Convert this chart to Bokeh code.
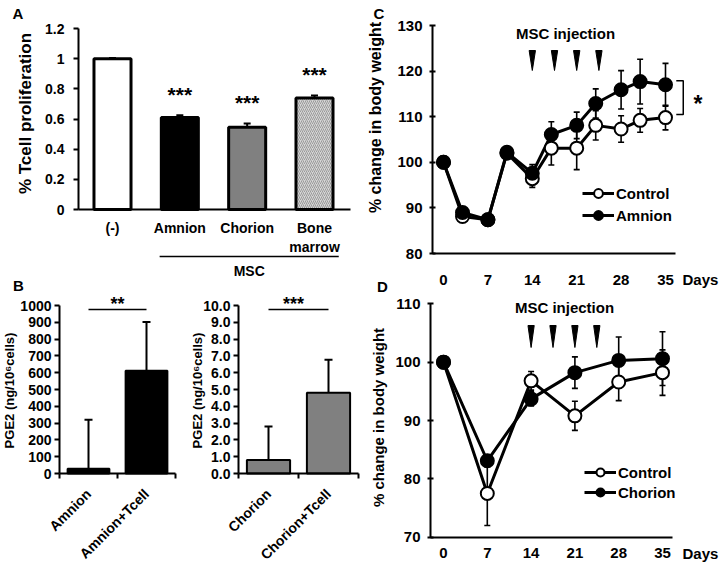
import math
from bokeh.plotting import figure
from bokeh.layouts import column, row
from bokeh.models import (Range1d, FixedTicker, Label, Arrow, Legend, LegendItem,
                          PrintfTickFormatter, CustomJSTickFormatter, ColumnDataSource)
from bokeh.core.properties import value
from bokeh.embed import file_html
from bokeh.resources import INLINE

FONT = "Liberation Sans"

# ---------------- data ----------------
# Panel A
a_categories = ["(-)", "Amnion", "Chorion", "Bone\nmarrow"]
a_values = [1.0, 0.61, 0.545, 0.74]
a_errors = [0.005, 0.015, 0.025, 0.015]
a_signif = ["", "***", "***", "***"]
a_group_label = "MSC"
a_yticks = [0, 0.2, 0.4, 0.6, 0.8, 1.0, 1.2]

# Panel B
b1_categories = ["Amnion", "Amnion+Tcell"]
b1_values = [28, 612]
b1_errors = [292, 290]
b1_signif = "**"
b1_yticks = [0, 100, 200, 300, 400, 500, 600, 700, 800, 900, 1000]

b2_categories = ["Chorion", "Chorion+Tcell"]
b2_values = [0.8, 4.8]
b2_errors = [2.0, 1.97]
b2_signif = "***"
b2_yticks = [0, 1, 2, 3, 4, 5, 6, 7, 8, 9, 10]

# Panel C
c_days = [0, 3, 7, 10, 14, 17, 21, 24, 28, 31, 35]
c_control = [100, 88.1, 87.4, 102.0, 96.4, 103.1, 103.1, 108.1, 107.3, 109.2, 109.8]
c_control_err = [0, 0.5, 0.5, 0.5, 1.9, 3.7, 4.7, 3.2, 2.9, 2.6, 2.7]
c_amnion = [100, 89.0, 87.4, 102.2, 97.6, 106.1, 108.1, 112.9, 115.9, 117.7, 117.0]
c_amnion_err = [0, 0.5, 0.5, 0.5, 1.9, 2.8, 2.9, 3.2, 4.2, 4.9, 4.7]
c_injections = [14, 17.5, 21, 24.5]
c_xticks = [0, 7, 14, 21, 28, 35]
c_yticks = [80, 90, 100, 110, 120, 130]
c_signif = "*"

# Panel D
d_days = [0, 7, 14, 21, 28, 35]
d_control = [100, 77.5, 96.8, 90.8, 96.6, 98.2]
d_control_err = [0, 5.5, 1.6, 2.5, 3.2, 3.9]
d_chorion = [100, 83.1, 93.7, 98.2, 100.3, 100.6]
d_chorion_err = [0, 1.0, 1.2, 2.7, 4.0, 4.6]
d_injections = [14, 17.5, 21, 24.5]
d_xticks = [0, 7, 14, 21, 28, 35]
d_yticks = [70, 80, 90, 100, 110]

# styles
a_colors = ["white", "black", "#808080", "#d6d6d6"]
a_hatch = [" ", " ", " ", "/"]

SPLIT = 294  # page y where the lower row of figures starts


class Panel:
    """A figure whose frame fills the whole canvas; page pixel <-> data mapping."""

    def __init__(self, box, xcal, ycal):
        l, t, r, b = box
        (px1, vx1), (px2, vx2) = xcal
        self.sx = (vx2 - vx1) / (px2 - px1)
        self.ox = vx1 - self.sx * px1
        (py1, vy1), (py2, vy2) = ycal
        self.sy = (vy2 - vy1) / (py2 - py1)
        self.oy = vy1 - self.sy * py1
        self.box = box
        p = figure(width=r - l, height=b - t,
                   x_range=Range1d(self.dx(l), self.dx(r)),
                   y_range=Range1d(self.dy(b), self.dy(t)),
                   min_border=0, min_border_left=0, min_border_right=0,
                   min_border_top=0, min_border_bottom=0,
                   output_backend="svg", toolbar_location=None)
        p.xgrid.visible = False
        p.ygrid.visible = False
        p.outline_line_color = None
        p.background_fill_color = "white"
        p.border_fill_color = "white"
        for ax in (p.xaxis[0], p.yaxis[0]):
            ax.axis_line_width = 2
            ax.axis_line_color = "black"
            ax.major_tick_line_width = 2
            ax.major_tick_line_color = "black"
            ax.minor_tick_line_color = None
            ax.major_label_text_font = FONT
            ax.major_label_text_font_style = "bold"
            ax.major_label_text_color = "black"
        self.p = p

    def dx(self, px):
        return self.ox + self.sx * px

    def dy(self, py):
        return self.oy + self.sy * py

    def place_axes(self, yaxis_px, xaxis_py, xbounds_px, ybounds):
        ya = self.p.yaxis[0]
        xa = self.p.xaxis[0]
        ya.fixed_location = self.dx(yaxis_px)
        ya.bounds = ybounds
        xa.fixed_location = self.dy(xaxis_py)
        xa.bounds = (self.dx(xbounds_px[0]), self.dx(xbounds_px[1]))
        return xa, ya

    def label(self, px, py, text, size, align="left", angle=0.0):
        # py is the vertical centre of the text
        self.p.add_layout(Label(x=self.dx(px), y=self.dy(py), text=text, text_font=FONT,
                                text_font_style="bold", text_font_size=f"{size}px",
                                text_align=align, text_baseline="middle", angle=angle,
                                text_color="black"))


# ---------------- Panel A ----------------
pa = Panel((0, 0, 360, SPLIT), ((112, 0), (314, 3)), ((209, 0), (28, 1.2)))
p = pa.p
a_idx = list(range(len(a_categories)))
a_src = ColumnDataSource(dict(
    x=a_idx, top=a_values,
    err_top=[v + e for v, e in zip(a_values, a_errors)],
    star_y=[v + e + 0.14 for v, e in zip(a_values, a_errors)],
    star=a_signif, fill=a_colors, hatch=a_hatch))
p.vbar(x="x", top="top", bottom=0, width=0.55, fill_color="fill", line_color="black",
       line_width=3, hatch_pattern="hatch", hatch_color="#808080", hatch_scale=4,
       hatch_weight=0.7, source=a_src)
p.segment(x0="x", y0="top", x1="x", y1="err_top", line_color="black", line_width=2, source=a_src)
p.scatter(x="x", y="err_top", marker="dash", size=7, line_color="black", line_width=2, source=a_src)
p.text(x="x", y="star_y", text="star", text_font=value(FONT), text_font_size="21px",
       text_font_style="bold", text_align="center", text_baseline="middle",
       text_color="black", source=a_src)
xa, ya = pa.place_axes(78, 209, (78, 350), (a_yticks[0], a_yticks[-1]))
ya.ticker = FixedTicker(ticks=a_yticks)
ya.formatter = CustomJSTickFormatter(code="return String(Math.round(tick * 10) / 10);")
ya.major_tick_out = 5
ya.major_tick_in = 0
ya.major_label_standoff = 9
ya.major_label_text_font_size = "14px"
xa.ticker = FixedTicker(ticks=a_idx)
xa.major_label_overrides = {i: c for i, c in enumerate(a_categories)}
xa.major_tick_out = 0
xa.major_tick_in = 0
xa.major_label_standoff = 10
xa.major_label_text_font_size = "14px"

pa.label(12, 13, "A", 15)
pa.label(12.5, 284.5, "B", 15)
pa.label(25, 113, "% Tcell proliferation", 17, align="center", angle=math.pi / 2)
msc_x0, msc_x1 = 1 - 0.3, 3 + 0.36
msc_y = pa.dy(256)
p.add_layout(Arrow(start=None, end=None, x_start=msc_x0, y_start=msc_y, x_end=msc_x1, y_end=msc_y,
                   line_color="black", line_width=1.3))
p.add_layout(Label(x=(msc_x0 + msc_x1) / 2, y=pa.dy(270), text=a_group_label, text_font=FONT,
                   text_font_style="bold", text_font_size="14px", text_align="center",
                   text_baseline="middle", text_color="black"))


# ---------------- Panel B ----------------
def bar_panel(panel, cats, vals, errs, yticks, fill, signif, star_cx, axis_px, right_px, fmt=None):
    p = panel.p
    idx = list(range(len(cats)))
    tops = [v + e for v, e in zip(vals, errs)]
    p.vbar(x=idx, top=vals, bottom=0, width=0.72, fill_color=fill, line_color="black", line_width=2)
    p.segment(x0=idx, y0=vals, x1=idx, y1=tops, line_color="black", line_width=2)
    p.scatter(x=idx, y=tops, marker="dash", size=8, line_color="black", line_width=2)
    sig_y = panel.dy(309)
    p.segment(x0=[idx[0]], y0=[sig_y], x1=[idx[-1]], y1=[sig_y], line_color="black", line_width=1.5)
    panel.label(star_cx, 303.5, signif, 18, align="center")
    xa, ya = panel.place_axes(axis_px, 473, (axis_px, right_px), (yticks[0], yticks[-1]))
    ya.ticker = FixedTicker(ticks=yticks)
    if fmt is not None:
        ya.formatter = fmt
    ya.major_tick_out = 5
    ya.major_tick_in = 0
    ya.major_label_standoff = 3
    ya.major_label_text_font_size = "14px"
    xa.ticker = FixedTicker(ticks=idx, minor_ticks=[i - 0.5 for i in idx] + [idx[-1] + 0.5])
    xa.major_label_overrides = {i: c for i, c in enumerate(cats)}
    xa.major_tick_out = 0
    xa.major_tick_in = 0
    xa.minor_tick_line_color = "black"
    xa.minor_tick_line_width = 2
    xa.minor_tick_out = 5
    xa.minor_tick_in = 0
    xa.major_label_orientation = math.pi / 4
    xa.major_label_standoff = 13
    xa.major_label_text_font_size = "14px"


pb1 = Panel((0, SPLIT, 190, 565), ((88, 0), (146, 1)), ((473, 0), (305, 1000)))
bar_panel(pb1, b1_categories, b1_values, b1_errors, b1_yticks, "black", b1_signif, 117, 59, 175)
pb1.label(9, 390, "PGE2 (ng/10\u2076cells)", 13, align="center", angle=math.pi / 2)

pb2 = Panel((190, SPLIT, 360, 565), ((268, 0), (328, 1)), ((473, 0), (305, 10)))
bar_panel(pb2, b2_categories, b2_values, b2_errors, b2_yticks, "#808080", b2_signif, 293, 238, 358,
          fmt=PrintfTickFormatter(format="%.1f"))
pb2.label(197, 390, "PGE2 (ng/10\u2076cells)", 13, align="center", angle=math.pi / 2)


# ---------------- Panels C and D ----------------
def line_panel(panel, days, ctrl, ctrl_err, trt, trt_err, trt_name, xticks, yticks,
               axis_px, axis_py, axis_end_px, inj, tri_top_py, tri_bot_py,
               legend_loc, legend_glyph_h, x_standoff):
    p = panel.p
    for vals, errs in ((ctrl, ctrl_err), (trt, trt_err)):
        lo = [v - e for v, e in zip(vals, errs)]
        hi = [v + e for v, e in zip(vals, errs)]
        p.segment(x0=days, y0=lo, x1=days, y1=hi, line_color="black", line_width=1.6)
        p.scatter(x=days + days, y=lo + hi, marker="dash", size=6, line_color="black", line_width=1.6)
    rc_line = p.line(days, ctrl, line_color="black", line_width=3)
    rt_line = p.line(days, trt, line_color="black", line_width=3)
    rc_pts = p.scatter(days, ctrl, size=13, fill_color="white", line_color="black", line_width=2)
    rt_pts = p.scatter(days, trt, size=13, fill_color="black", line_color="black", line_width=2)
    tri_top, tri_bot = panel.dy(tri_top_py), panel.dy(tri_bot_py)
    p.patches(xs=[[d - 0.5, d + 0.5, d] for d in inj],
              ys=[[tri_top, tri_top, tri_bot] for _ in inj],
              fill_color="black", line_color="black", line_width=1)
    leg = Legend(items=[LegendItem(label="Control", renderers=[rc_line, rc_pts]),
                        LegendItem(label=trt_name, renderers=[rt_line, rt_pts])],
                 location=legend_loc, glyph_width=32, glyph_height=legend_glyph_h,
                 label_height=legend_glyph_h, spacing=0,
                 padding=0, margin=0, label_standoff=2, border_line_color=None,
                 background_fill_alpha=0, label_text_font=FONT, label_text_font_style="bold",
                 label_text_font_size="15px", label_text_color="black")
    p.add_layout(leg)
    xa, ya = panel.place_axes(axis_px, axis_py, (axis_px, axis_end_px), (yticks[0], yticks[-1]))
    ya.ticker = FixedTicker(ticks=yticks)
    ya.major_tick_out = 3
    ya.major_tick_in = 3
    ya.major_label_standoff = 7
    ya.major_label_text_font_size = "15px"
    xa.ticker = FixedTicker(ticks=xticks)
    xa.major_tick_out = 0
    xa.major_tick_in = 0
    xa.major_label_standoff = x_standoff
    xa.major_label_text_font_size = "15px"


pc = Panel((360, 0, 720, SPLIT), ((443, 0), (665, 35)), ((253, 80), (25, 130)))
line_panel(pc, c_days, c_control, c_control_err, c_amnion, c_amnion_err, "Amnion",
           c_xticks, c_yticks, 432, 253, 675, c_injections, 50, 70,
           (222, SPLIT - 226), 22, 21)
pc.label(373, 13, "C", 15)
pc.label(376.5, 285.5, "D", 15)
pc.label(375, 117, "% change in body weight", 16, align="center", angle=math.pi / 2)
pc.label(565, 32.5, "MSC injection", 15, align="center")
pc.label(682, 279, "Days", 15)
br_top = c_amnion[-1] + 0.9
br_bot = c_control[-1] + 0.7
br_x0 = c_days[-1] + 1.7
br_x1 = c_days[-1] + 2.8
pc.p.line([br_x0, br_x1, br_x1, br_x0], [br_top, br_top, br_bot, br_bot], line_color="black", line_width=1.5)
pc.label(697.5, 103.5, c_signif, 23, align="center")

pd_ = Panel((360, SPLIT, 720, 565), ((443, 0), (662, 35)), ((536.7, 70), (303.3, 110)))
line_panel(pd_, d_days, d_control, d_control_err, d_chorion, d_chorion_err, "Chorion",
           d_xticks, d_yticks, 430, 536.7, 672, d_injections, 325, 347,
           (224, 565 - 502), 20, 11)
pd_.label(378, 417, "% change in body weight", 15, align="center", angle=math.pi / 2)
pd_.label(564, 307, "MSC injection", 15, align="center")
pd_.label(682, 552.5, "Days", 15)

layout = column(row(pa.p, pc.p), row(pb1.p, pb2.p, pd_.p))
open("out.html", "w").write(file_html(layout, INLINE))
